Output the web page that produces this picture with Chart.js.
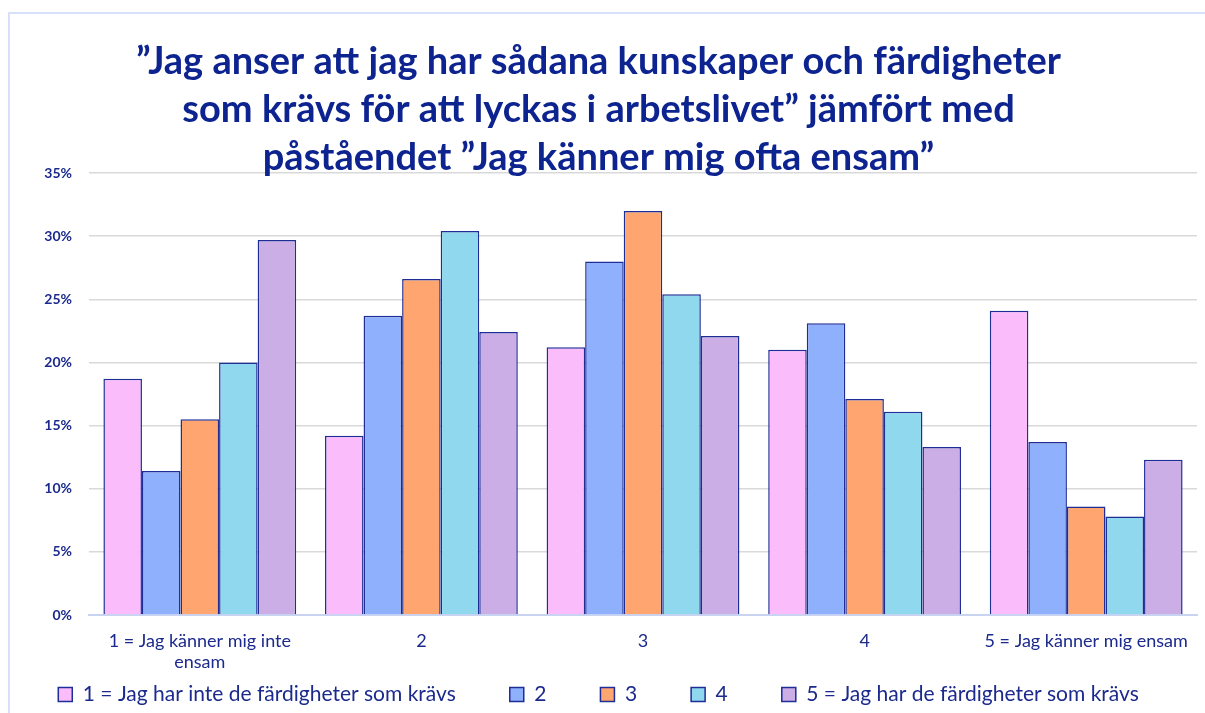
<!DOCTYPE html>
<html>
<head>
<meta charset="utf-8">
<script src="https://cdn.jsdelivr.net/npm/chart.js@4/dist/chart.umd.min.js"></script>
<style>
  body { margin: 0; background: #fff; }
  #frame { position: absolute; left: 8px; top: 12px; width: 1205px; height: 720px; border-left: 2px solid #d6e0fa; border-top: 2px solid #d6e0fa; }
  #wrap { position: absolute; left: 0; top: 0; width: 1205px; height: 713px; }
</style>
</head>
<body>
<div id="frame"></div>
<div id="wrap"><canvas id="chart"></canvas></div>
<script>
const categories = [
    ['1 = Jag känner mig inte', 'ensam'],
    '2',
    '3',
    '4',
    '5 = Jag känner mig ensam',
];
const seriesNames = [
    '1 = Jag har inte de färdigheter som krävs',
    '2',
    '3',
    '4',
    '5 = Jag har de färdigheter som krävs',
];
const share1 = [18.7, 14.2, 21.2, 21.0, 24.1];
const share2 = [11.4, 23.7, 28.0, 23.1, 13.7];
const share3 = [15.5, 26.6, 32.0, 17.1, 8.6];
const share4 = [20.0, 30.4, 25.4, 16.1, 7.8];
const share5 = [29.7, 22.4, 22.1, 13.3, 12.3];
const colors = ['#fbbcfb', '#8fb0fc', '#fea570', '#8fd8ee', '#cbaee6'];
const titleLines = [
    '”Jag anser att jag har sådana kunskaper och färdigheter',
    'som krävs för att lyckas i arbetslivet” jämfört med',
    'påståendet ”Jag känner mig ofta ensam”',
];

const navy = '#1f2d96';
const textColor = '#1b2a8c';

const datasets = [share1, share2, share3, share4, share5].map((values, i) => ({
    label: seriesNames[i],
    data: values,
    backgroundColor: colors[i],
    borderColor: navy,
    borderWidth: 1.5,
    categoryPercentage: 0.87,
    barPercentage: 1.0,
}));

new Chart(document.getElementById('chart'), {
    type: 'bar',
    data: {labels: categories, datasets: datasets},
    options: {
        responsive: true,
        maintainAspectRatio: false,
        animation: false,
        layout: {padding: {left: 0, right: 8, top: 0, bottom: -2}},
        plugins: {
            title: {
                display: true,
                text: titleLines,
                color: '#0d2390',
                font: {family: 'Lato', size: 38, weight: 'bold', lineHeight: '48px'},
                padding: {top: 38, bottom: -9},
            },
            legend: {
                position: 'bottom',
                labels: {
                    color: textColor,
                    font: {family: 'Lato', size: 21},
                    boxWidth: 14,
                    boxHeight: 14,
                    padding: 54,
                },
            },
            tooltip: {enabled: false},
        },
        scales: {
            x: {
                grid: {display: false},
                border: {color: '#c9d4f2', width: 2},
                ticks: {
                    color: textColor,
                    font: {family: 'Lato', size: 18, lineHeight: '21px'},
                    // mirrored so the labels can hang below a thin axis box
                    mirror: true,
                    padding: -36.5,
                    maxRotation: 0,
                    autoSkip: false,
                },
                afterFit: (scale) => { scale.height = 15; },
            },
            y: {
                min: 0,
                max: 35,
                ticks: {
                    stepSize: 5,
                    color: textColor,
                    font: {family: 'Lato', size: 14, weight: 'bold'},
                    padding: 17,
                    callback: (v) => v + '%',
                },
                grid: {color: '#d9d9d9', lineWidth: 1.5, drawTicks: false},
                border: {display: false},
                afterFit: (scale) => { scale.width = 89; },
            },
        },
    },
});
</script>
</body>
</html>
